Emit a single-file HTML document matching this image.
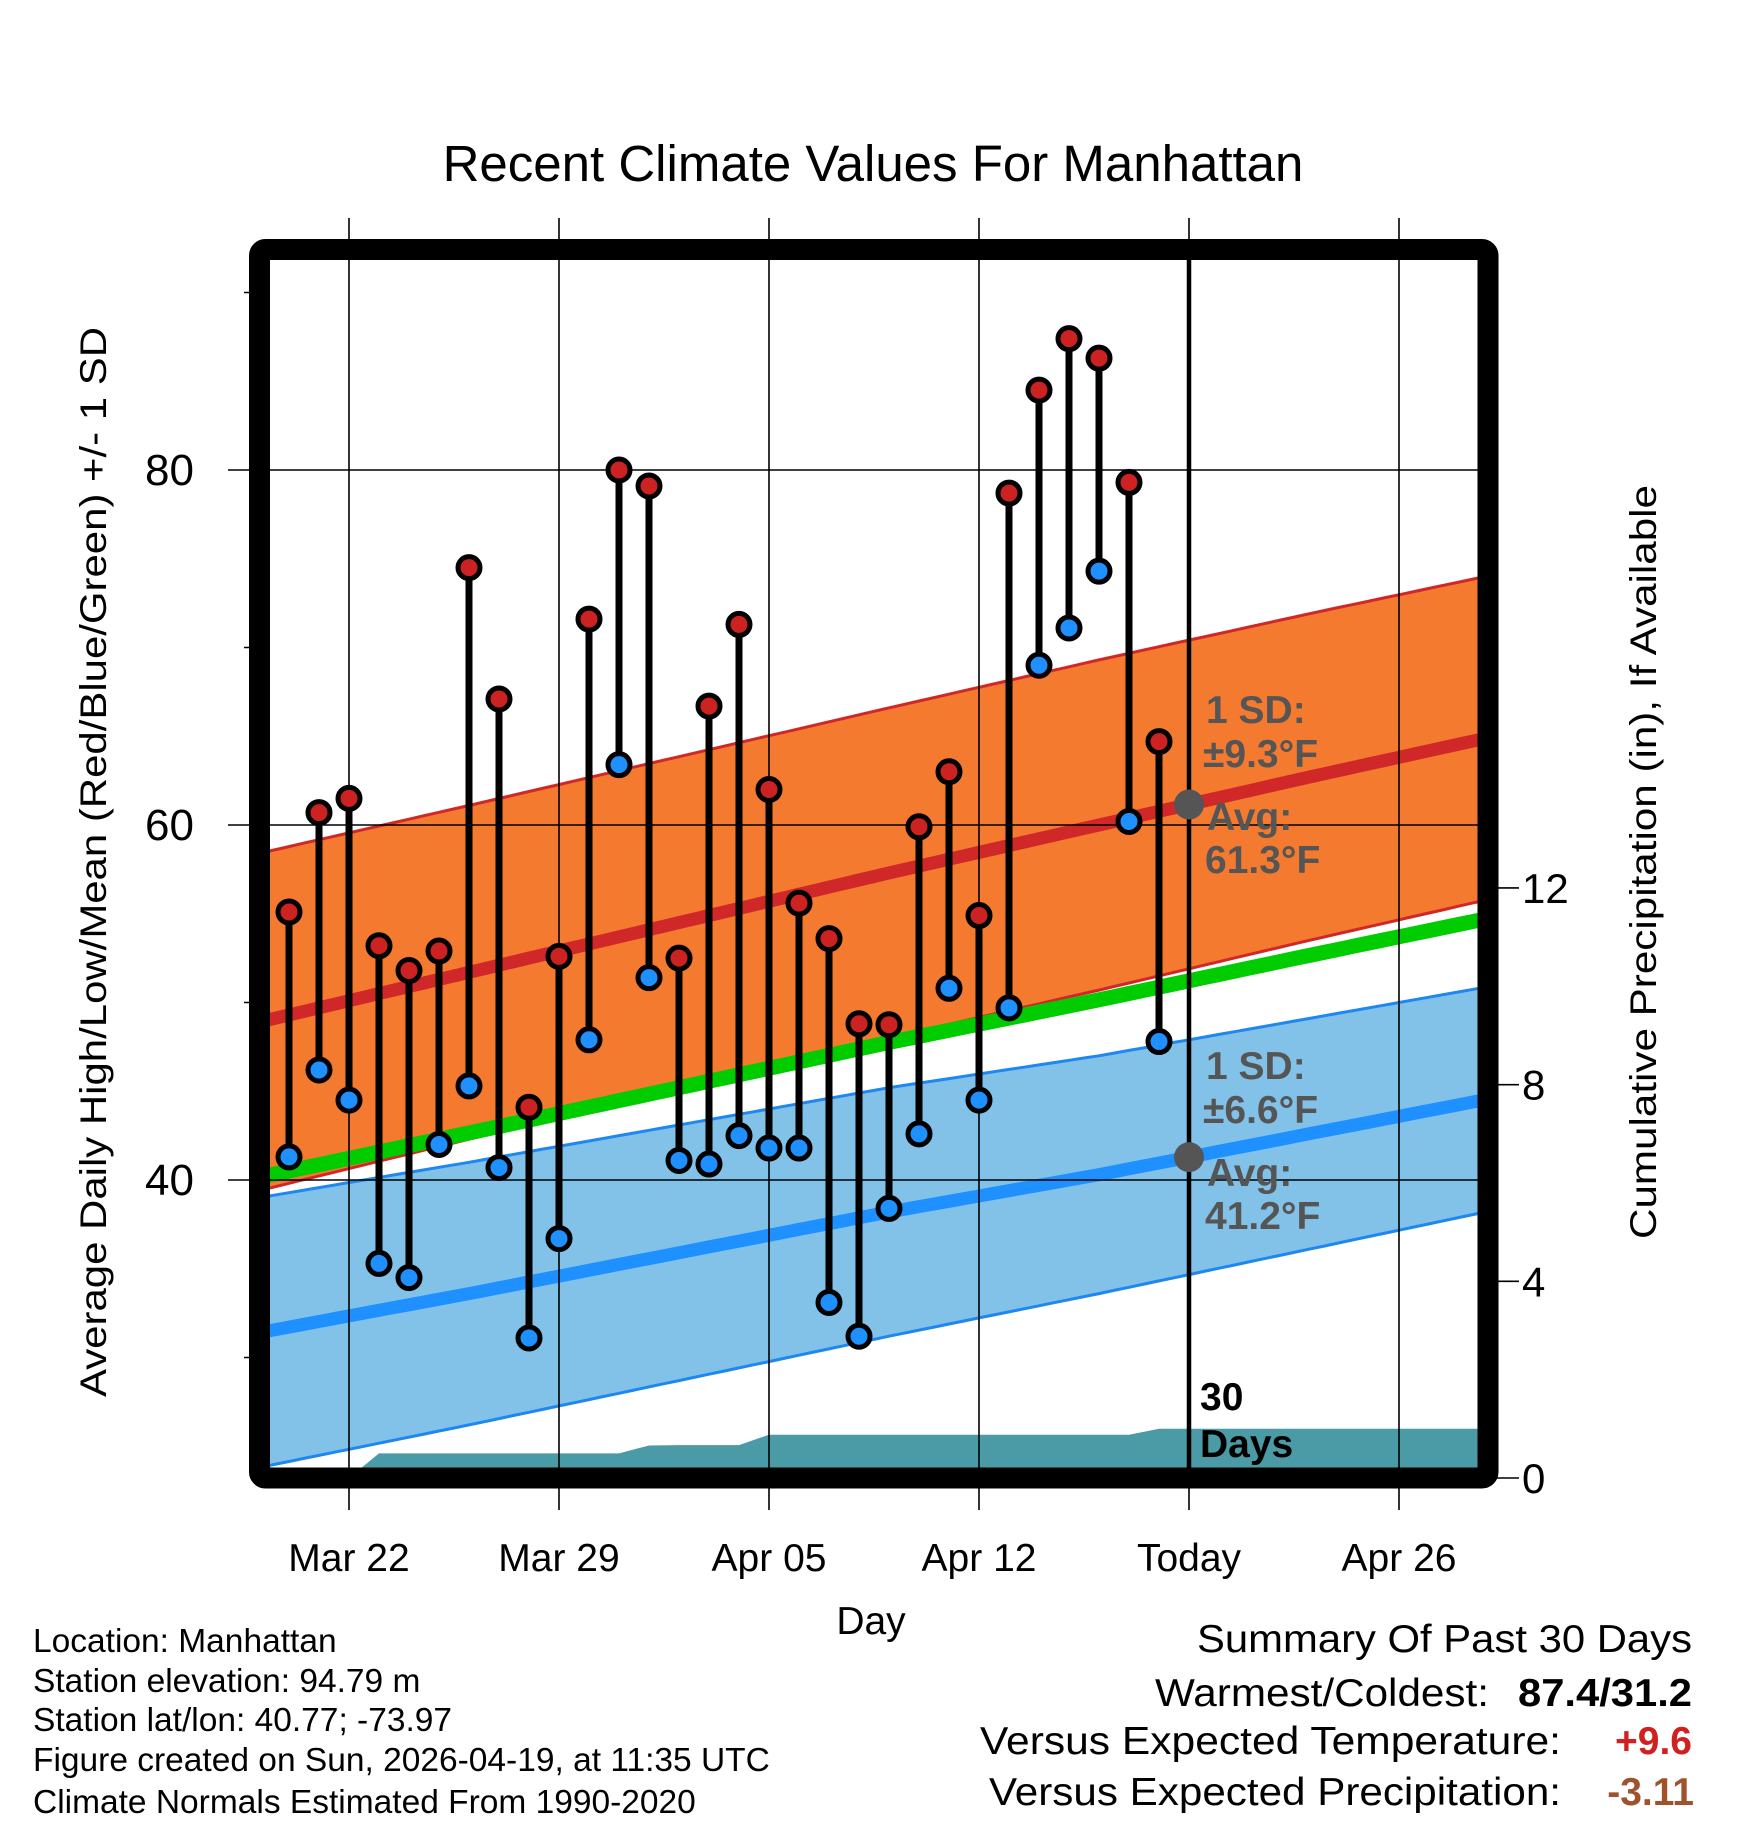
<!DOCTYPE html>
<html><head><meta charset="utf-8"><style>
html,body{margin:0;padding:0;background:#fff}
svg{display:block}
text{font-family:"Liberation Sans",sans-serif}
</style></head><body>
<svg id="chart" width="1748" height="1828" viewBox="0 0 1748 1828" xmlns="http://www.w3.org/2000/svg">
<defs><clipPath id="plotclip"><rect x="270" y="260" width="1208" height="1208"/></clipPath></defs>
<rect x="0" y="0" width="1748" height="1828" fill="#fff"/>
<text x="873" y="181" font-size="51" text-anchor="middle">Recent Climate Values For Manhattan</text>
<g id="bands" clip-path="url(#plotclip)"></g>
<g id="grid"></g>
<g id="marks" clip-path="url(#plotclip)"></g>
<g id="axes"></g>
<text transform="translate(106,862) rotate(-90)" font-size="37" text-anchor="middle" textLength="1070" lengthAdjust="spacingAndGlyphs">Average Daily High/Low/Mean (Red/Blue/Green) +/- 1 SD</text>
<text transform="translate(1656,862) rotate(-90)" font-size="37" text-anchor="middle" textLength="754" lengthAdjust="spacingAndGlyphs">Cumulative Precipitation (in), If Available</text>
<text x="871" y="1634" font-size="39" text-anchor="middle">Day</text>
<g font-size="33.5">
<text x="33" y="1652">Location: Manhattan</text>
<text x="33" y="1692">Station elevation: 94.79 m</text>
<text x="33" y="1731">Station lat/lon: 40.77; -73.97</text>
<text x="33" y="1771">Figure created on Sun, 2026-04-19, at 11:35 UTC</text>
<text x="33" y="1813">Climate Normals Estimated From 1990-2020</text>
</g>
<g font-size="39">
<text x="1692" y="1652" text-anchor="end" textLength="495" lengthAdjust="spacingAndGlyphs">Summary Of Past 30 Days</text>
<text x="1489" y="1706" text-anchor="end" textLength="334" lengthAdjust="spacingAndGlyphs">Warmest/Coldest:</text>
<text x="1692" y="1706" text-anchor="end" font-weight="bold" textLength="174" lengthAdjust="spacingAndGlyphs">87.4/31.2</text>
<text x="1561" y="1754" text-anchor="end" textLength="581" lengthAdjust="spacingAndGlyphs">Versus Expected Temperature:</text>
<text x="1692" y="1754" text-anchor="end" font-weight="bold" fill="#d02020">+9.6</text>
<text x="1561" y="1805" text-anchor="end" textLength="572" lengthAdjust="spacingAndGlyphs">Versus Expected Precipitation:</text>
<text x="1694" y="1805" text-anchor="end" font-weight="bold" fill="#a0522d">-3.11</text>
</g>
</svg>
<script>
// ---- data ----
const dayLabels = ["Mar 22","Mar 29","Apr 05","Apr 12","Today","Apr 26"];
const dayTickOffsets = [0,7,14,21,28,35];
const obsStartOffset = -2; // Mar 20 relative to Mar 22
const highs = [55.1,60.7,61.5,53.2,51.8,52.9,74.5,67.1,44.1,52.6,71.6,80.0,79.1,52.5,66.7,71.3,62.0,55.6,53.6,48.8,48.75,59.9,63.0,54.9,78.7,84.5,87.4,86.3,79.3,64.7];
const lows  = [41.3,46.2,44.5,35.3,34.5,42.0,45.3,40.7,31.1,36.7,47.9,63.4,51.4,41.1,40.9,42.5,41.8,41.8,33.1,31.2,38.4,42.6,50.8,44.5,49.7,69.0,71.1,74.3,60.2,47.8];
const precipCum = [0,0,0,0.5,0.5,0.5,0.5,0.5,0.5,0.5,0.5,0.5,0.66,0.67,0.67,0.67,0.88,0.88,0.88,0.88,0.88,0.88,0.88,0.88,0.88,0.88,0.88,0.88,0.88,1.0];
const normalDays = [-3,4,11,18,25,32,39];
const normalHigh = [48.9,51.7,54.5,57.3,60.0,62.7,65.3];
const normalLow  = [31.4,33.6,35.9,38.2,40.3,42.6,44.9];
const sdHighArr = [9.5,9.4,9.35,9.3,9.3,9.2,9.1];
const sdLowArr  = [7.6,7.4,7.2,7.0,6.7,6.5,6.3];
const tempTicks = [30,40,50,60,70,80,90];
const tempLabels = [40,60,80];
const precipTicks = [0,4,8,12];

// ---- axes ----
const X = d => 349 + 30*d;
const Y = t => 470 + (80 - t)*17.75;
const YP = p => 1478 - p*49.17;
const NS = "http://www.w3.org/2000/svg";
function mk(tag, attrs, parent){const e=document.createElementNS(NS,tag);for(const k in attrs)e.setAttribute(k,attrs[k]);parent.appendChild(e);return e;}
function interp(xs, ys, x){
  if(x<=xs[0]) return ys[0]+(ys[1]-ys[0])*(x-xs[0])/(xs[1]-xs[0]);
  for(let i=0;i<xs.length-1;i++){ if(x<=xs[i+1]) return ys[i]+(ys[i+1]-ys[i])*(x-xs[i])/(xs[i+1]-xs[i]); }
  const n=xs.length; return ys[n-2]+(ys[n-1]-ys[n-2])*(x-xs[n-2])/(xs[n-1]-xs[n-2]);
}
const bands=document.getElementById('bands'), grid=document.getElementById('grid'), marks=document.getElementById('marks'), axes=document.getElementById('axes');
const dmin=-3, dmax=39;
const samples=[]; for(let d=dmin; d<=dmax; d+=0.5) samples.push(d);
function line(fn){return samples.map(d=>X(d).toFixed(1)+","+Y(fn(d)).toFixed(1)).join(" ");}
const nh=d=>interp(normalDays,normalHigh,d), nl=d=>interp(normalDays,normalLow,d);
const sh=d=>interp(normalDays,sdHighArr,d), sl=d=>interp(normalDays,sdLowArr,d);
function band(fnU, fnL){return line(fnU)+" "+samples.slice().reverse().map(d=>X(d).toFixed(1)+","+Y(fnL(d)).toFixed(1)).join(" ");}

let e;
e=mk('polygon',{points:band(d=>nh(d)+sh(d),d=>nh(d)-sh(d)),fill:'#f47a30'},bands);
 
e=mk('polygon',{points:band(d=>nl(d)+sl(d),d=>nl(d)-sl(d)),fill:'#82c1e8'},bands);
 
e=mk('polyline',{points:line(d=>nh(d)+sh(d)),fill:'none',stroke:'#d02828','stroke-width':3},bands);
 
e=mk('polyline',{points:line(d=>nh(d)-sh(d)),fill:'none',stroke:'#d02828','stroke-width':3},bands);
 
e=mk('polyline',{points:line(d=>nl(d)+sl(d)),fill:'none',stroke:'#1e88f0','stroke-width':3},bands);
 
e=mk('polyline',{points:line(d=>nl(d)-sl(d)),fill:'none',stroke:'#1e88f0','stroke-width':3},bands);
 
e=mk('polyline',{points:line(d=>(nh(d)+nl(d))/2),fill:'none',stroke:'#00cc00','stroke-width':15},bands);
 
e=mk('polyline',{points:line(nh),fill:'none',stroke:'#d02828','stroke-width':13},bands);
 
e=mk('polyline',{points:line(nl),fill:'none',stroke:'#1e90ff','stroke-width':13},bands);
 

// precip
let pp=[X(dmin)+","+YP(0)];
precipCum.forEach((p,i)=>pp.push(X(obsStartOffset+i)+","+YP(p).toFixed(1)));
pp.push(X(dmax)+","+YP(precipCum[precipCum.length-1]).toFixed(1));
pp.push(X(dmax)+","+YP(0));
e=mk('polygon',{points:pp.join(" "),fill:'#4a9ba5'},bands);
 

// grid
dayTickOffsets.forEach((d,i)=>{
  e=mk('line',{x1:X(d),x2:X(d),y1:218,y2:1510,stroke:'#000','stroke-width':1.6},grid);
   
  e=mk('text',{x:X(d),y:1571,'font-size':39,'text-anchor':'middle'},axes);
  e.textContent=dayLabels[i];
   
});
tempLabels.forEach(t=>{
  e=mk('line',{x1:228,x2:1478,y1:Y(t),y2:Y(t),stroke:'#000','stroke-width':1.6},grid);
   
  e=mk('text',{x:194,y:Y(t)+15,'font-size':44,'text-anchor':'end'},axes);
  e.textContent=t;
   
});
tempTicks.forEach(t=>{
  if(tempLabels.includes(t)) return;
  e=mk('line',{x1:244,x2:262,y1:Y(t),y2:Y(t),stroke:'#000','stroke-width':1.6},grid);
   
});
precipTicks.forEach(p=>{
  e=mk('line',{x1:1486,x2:1519,y1:YP(p),y2:YP(p),stroke:'#000','stroke-width':1.6},grid);
   
  e=mk('text',{x:1522,y:YP(p)+15,'font-size':42},axes);
  e.textContent=p;
   
});

// today line
e=mk('line',{x1:X(28),x2:X(28),y1:255,y2:1470,stroke:'#000','stroke-width':4.5},marks);
 

// bars & dots
highs.forEach((h,i)=>{
  const x=X(obsStartOffset+i);
  e=mk('line',{x1:x,x2:x,y1:Y(h),y2:Y(lows[i]),stroke:'#000','stroke-width':7},marks);
   
});
highs.forEach((h,i)=>{
  const x=X(obsStartOffset+i);
  e=mk('circle',{cx:x,cy:Y(h),r:11,fill:'#cc2222',stroke:'#000','stroke-width':5},marks);
   
  e=mk('circle',{cx:x,cy:Y(lows[i]),r:11,fill:'#1e90ff',stroke:'#000','stroke-width':5},marks);
   
});

// annotations
function ann(yOff, sd, avg, name){
  const g=mk('g',{'font-size':39,'font-weight':'bold',fill:'#555'},marks);
   
  mk('text',{x:1206,y:723+yOff},g).textContent='1 SD:';
  mk('text',{x:1203,y:767+yOff},g).textContent='\u00b1'+sd+'\u00b0F';
  mk('text',{x:1207,y:830+yOff},g).textContent='Avg:';
  mk('text',{x:1205,y:873+yOff},g).textContent=avg+'\u00b0F';
}
e=mk('circle',{cx:X(28),cy:Y(nh(28)),r:15,fill:'#555'},marks);
 
e=mk('circle',{cx:X(28),cy:Y(nl(28)),r:15,fill:'#555'},marks);
 
ann(0,'9.3','61.3','high-normal-annotation');
ann(356,'6.6','41.2','low-normal-annotation');
const g30=mk('g',{'font-size':39,'font-weight':'bold',fill:'#000'},marks);
 
mk('text',{x:1200,y:1410},g30).textContent='30';
mk('text',{x:1200,y:1457},g30).textContent='Days';

// frame
e=mk('rect',{x:259.5,y:249.5,width:1228.5,height:1228.5,rx:6,fill:'none',stroke:'#000','stroke-width':21},axes);
 
</script>
</body></html>
